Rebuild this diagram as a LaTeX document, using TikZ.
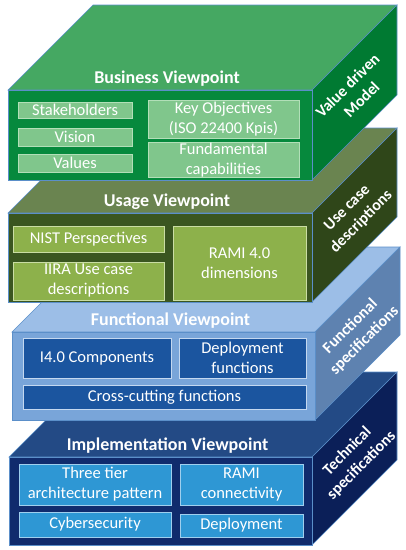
\documentclass[tikz,border=0pt]{standalone}
\usepackage{fontspec}
\setmainfont{Carlito}
\definecolor{edgeblue}{HTML}{5B8FC9}
\definecolor{bus-front}{HTML}{06893D}
\definecolor{bus-top}{HTML}{45A862}
\definecolor{bus-side}{HTML}{007A32}
\definecolor{bus-box}{HTML}{80C68C}
\definecolor{bus-line}{HTML}{B2DFB8}
\definecolor{use-front}{HTML}{3A5620}
\definecolor{use-top}{HTML}{6A8450}
\definecolor{use-side}{HTML}{2F4619}
\definecolor{use-box}{HTML}{8DB14B}
\definecolor{use-line}{HTML}{C9DDA3}
\definecolor{fun-front}{HTML}{79A5D9}
\definecolor{fun-top}{HTML}{9CBEE7}
\definecolor{fun-side}{HTML}{5E82B0}
\definecolor{fun-box}{HTML}{1B559F}
\definecolor{fun-line}{HTML}{C4D8F0}
\definecolor{imp-front}{HTML}{102B6D}
\definecolor{imp-top}{HTML}{234A85}
\definecolor{imp-side}{HTML}{0B1F58}
\definecolor{imp-box}{HTML}{2E97D4}
\definecolor{imp-line}{HTML}{9FCFEE}
\begin{document}
\begin{tikzpicture}[x=1pt,y=-1pt,
        face/.style={draw=edgeblue,line width=0.6pt},
        title/.style={text=white,font=\fontsize{18}{20}\selectfont\bfseries},
        sidetext/.style={text=white,align=center,rotate=45,font=\fontsize{16}{20}\selectfont\bfseries},
        inbox/.style={text=white,align=center,inner sep=0pt,line width=1pt,font=\fontsize{16.5}{20}\selectfont}]
        \useasboundingbox (0,0) rectangle (406,550);
        \foreach \n/\xl/\xr/\yt/\yb/\c/\t/\s in {imp/9/312/457/545/imp/{Implementation Viewpoint}/{Technical\\specifications},
            fun/12/315/332/420/fun/{Functional Viewpoint}/{Functional\\specifications},
            use/8/312/213/302/use/{Usage Viewpoint}/{Use case\\descriptions},
            bus/8/312/90/180/bus/{Business Viewpoint}/{Value driven\\Model}}{
            \filldraw[face,fill=\c-top] (\xl,\yt) -- ++(85,-85) -- (\xr+85,\yt-85) -- (\xr,\yt) -- cycle;
            \filldraw[face,fill=\c-side] (\xr,\yt) -- ++(85,-85) -- (\xr+85,\yb-85) -- (\xr,\yb) -- cycle;
            \filldraw[face,fill=\c-front] (\xl,\yt) rectangle (\xr,\yb);
            \node[title] (\n-title) at ({(\xl+\xr)/2+7},\yt-11) {\t};
            \node[sidetext] (\n-side) at (\xr+42.5,{(\yt+\yb)/2-42.5}) {\s};
        }
        \foreach \n/\x/\y/\w/\h/\c/\l in {stake/75/110/114/16/bus/{Stakeholders},
            vision/75/137/114/18/bus/{Vision},
            values/75/163/114/18/bus/{Values},
            keyobj/223.5/119/151/38/bus/{Key Objectives\\(ISO 22400 Kpis)},
            fundcap/223.5/160/151/34/bus/{Fundamental\\capabilities},
            nist/88.5/239/151/26/use/{NIST Perspectives},
            iira/88.5/281/151/38/use/{IIRA Use case\\descriptions},
            rami/239.5/263/133/74/use/{RAMI 4.0\\dimensions},
            comp/97/358/148/40/fun/{I4.0 Components},
            depfun/242.5/358/127/40/fun/{Deployment\\functions},
            cross/164.5/397/283/24/fun/{Cross-cutting functions},
            tier/95/484.5/152/41/imp/{Three tier\\architecture pattern},
            ramicon/241.5/484.5/123/41/imp/{RAMI\\connectivity},
            cyber/95/524.5/152/25/imp/{Cybersecurity},
            deploy/241.5/525.5/123/23/imp/{Deployment}}{
            \node[inbox,fill=\c-box,draw=\c-line,minimum width=\w,minimum height=\h] (\n) at (\x,\y) {\l};
        }
    \end{tikzpicture}
\end{document}
